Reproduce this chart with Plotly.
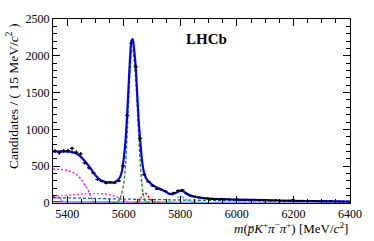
import numpy as np
import plotly.graph_objects as go

# ---- data ----
bin_centers = [5357.5 + 15 * i for i in range(70)]
counts = [705, 683, 708, 712, 742, 690, 668, 545, 478, 410,
          320, 296, 270, 283, 272, 300, 505, 1190, 2170, 1850,
          880, 385, 290, 232, 190, 182, 160, 125, 140, 170,
          178, 128, 102, 88, 75, 68, 62, 58, 55, 57,
          50, 52, 46, 48, 42, 45, 40, 43, 38, 40,
          36, 34, 37, 32, 30, 33, 42, 28, 30, 27,
          26, 28, 24, 25, 22, 24, 21, 22, 19, 20]

total_x = [5350, 5370, 5390, 5410, 5430, 5445, 5460, 5475, 5490, 5505, 5520, 5537, 5552,
           5566, 5578, 5587, 5594, 5600, 5606, 5612, 5618, 5623, 5628, 5632, 5636, 5642,
           5648, 5653, 5658, 5665, 5672, 5680, 5690, 5700, 5715, 5730, 5745, 5760, 5770,
           5785, 5800, 5810, 5820, 5835, 5850, 5875, 5900, 5950, 6000, 6100, 6200, 6300, 6400]
total_y = [700, 700, 702, 697, 676, 640, 580, 510, 430, 355, 305, 285, 278,
           282, 308, 350, 440, 600, 830, 1190, 1650, 2000, 2210, 2225, 2110, 1870,
           1460, 1110, 860, 570, 410, 330, 284, 250, 215, 190, 160, 128, 120,
           140, 165, 160, 132, 100, 85, 70, 60, 52, 45, 38, 30, 25, 20]

sig_x = [5560, 5575, 5585, 5592, 5600, 5607, 5613, 5618, 5623, 5628, 5632, 5636,
         5642, 5648, 5653, 5658, 5664, 5670, 5678, 5690]
sig_y = [0, 8, 45, 120, 260, 540, 1010, 1460, 1850, 2070, 2090, 1970,
         1720, 1320, 930, 570, 270, 95, 20, 0]

red_x = [5640, 5652, 5660, 5668, 5675, 5683, 5692, 5700, 5712, 5725, 5740]
red_y = [0, 10, 60, 128, 140, 112, 62, 36, 15, 5, 0]

partreco_x = [5350, 5380, 5400, 5420, 5435, 5450, 5465, 5478, 5488, 5495]
partreco_y = [460, 455, 445, 415, 380, 320, 230, 140, 50, 0]

pink_x = [5350, 5380, 5420, 5460, 5500, 5530, 5555, 5575, 5590, 5600, 5610, 5620]
pink_y = [90, 100, 112, 122, 128, 124, 108, 85, 55, 35, 15, 0]

comb_x = [5350, 5450, 5550, 5650, 5750, 5850, 5950, 6050, 6150, 6250, 6400]
comb_y = [75, 65, 57, 50, 44, 38, 33, 29, 25, 22, 18]

xi_x = [5740, 5770, 5790, 5802, 5815, 5835, 5860, 5900]
xi_y = [0, 20, 70, 90, 62, 22, 5, 0]

lav_x = [5350, 5365, 5376, 5384, 5400, 5500, 5600, 5800, 6000, 6400]
lav_y = [70, 70, 60, 25, 20, 15, 12, 9, 7, 5]

purple_x = [5350, 5450, 5550, 5650, 5800, 6000, 6400]
purple_y = [18, 15, 12, 9, 6, 4, 2]

x_ticks = [5400, 5600, 5800, 6000, 6200, 6400]
y_ticks = [0, 500, 1000, 1500, 2000, 2500]

SERIF = "Liberation Serif, Times New Roman, serif"

fig = go.Figure()

def curve(x, y, color, dash, width=1.4):
    fig.add_trace(go.Scatter(x=x, y=y, mode="lines",
                             line=dict(color=color, dash=dash, width=width, shape="spline", smoothing=0.8),
                             hoverinfo="skip", showlegend=False))

curve(purple_x, purple_y, "#990099", "solid", 1.2)
curve(lav_x, lav_y, "#9999ff", "solid", 1.6)
curve(comb_x, comb_y, "#007777", "3px,2px", 1.3)
curve(xi_x, xi_y, "#55aacc", "3px,2px", 1.3)
curve(pink_x, pink_y, "#ff33ff", "2px,2px", 1.4)
curve(partreco_x, partreco_y, "#ff00ff", "2px,2px", 1.4)
curve(red_x, red_y, "#ff0000", "2px,2px", 1.4)
curve(sig_x, sig_y, "#228b22", "3px,2px", 1.4)
curve(total_x, total_y, "#0000ff", "solid", 2.2)

fig.add_trace(go.Scatter(
    x=bin_centers, y=counts, mode="markers",
    marker=dict(color="black", size=2),
    error_y=dict(type="data", array=list(np.sqrt(counts)), color="black", thickness=1.2, width=0),
    error_x=dict(type="constant", value=7.5, color="black", thickness=1.2, width=0),
    hoverinfo="skip", showlegend=False))

axis_common = dict(showline=True, linecolor="black", linewidth=1, mirror="ticks",
                   ticks="inside", tickcolor="black", ticklen=7, tickwidth=1,
                   showgrid=False, zeroline=False,
                   tickfont=dict(family=SERIF, size=12, color="black"))

fig.update_xaxes(range=[5350, 6400], tickvals=x_ticks, ticktext=[str(v) for v in x_ticks],
                 minor=dict(dtick=50, tick0=5350, ticks="inside", ticklen=4, tickcolor="black", showgrid=False),
                 **axis_common)
fig.update_yaxes(range=[0, 2500], tickvals=y_ticks, ticktext=[str(v) for v in y_ticks],
                 minor=dict(dtick=100, tick0=0, ticks="inside", ticklen=4, tickcolor="black", showgrid=False),
                 **axis_common)

fig.add_annotation(text="Candidates / ( 15 MeV/<i>c</i><sup>2</sup> )", xref="paper", yref="paper",
                   x=-0.136, y=0.58, xanchor="center", yanchor="middle", textangle=-90,
                   showarrow=False, font=dict(family=SERIF, size=13.5, color="black"))
fig.add_annotation(text="<i>m</i>(<i>p\u0305</i><i>K</i><sup>+</sup><i>\u03c0</i><sup>\u2212</sup><i>\u03c0</i><sup>+</sup>) [MeV/<i>c</i><sup>2</sup>]",
                   xref="paper", yref="paper", x=1.0, y=-0.135, xanchor="right", yanchor="middle",
                   showarrow=False, font=dict(family=SERIF, size=13, color="black"))
fig.add_annotation(text="<b>LHCb</b>", xref="paper", yref="paper", x=(209 - 53) / 302, y=(203 - 33) / 191,
                   xanchor="center", yanchor="middle", showarrow=False,
                   font=dict(family=SERIF, size=15, color="black"))

fig.update_layout(width=374, height=241, margin=dict(l=53, r=19, t=12, b=38),
                  paper_bgcolor="white", plot_bgcolor="white", showlegend=False)

fig.write_html("out.html", config={"displayModeBar": False},
               post_script="document.body.style.margin='0';document.body.style.overflow='hidden';")
